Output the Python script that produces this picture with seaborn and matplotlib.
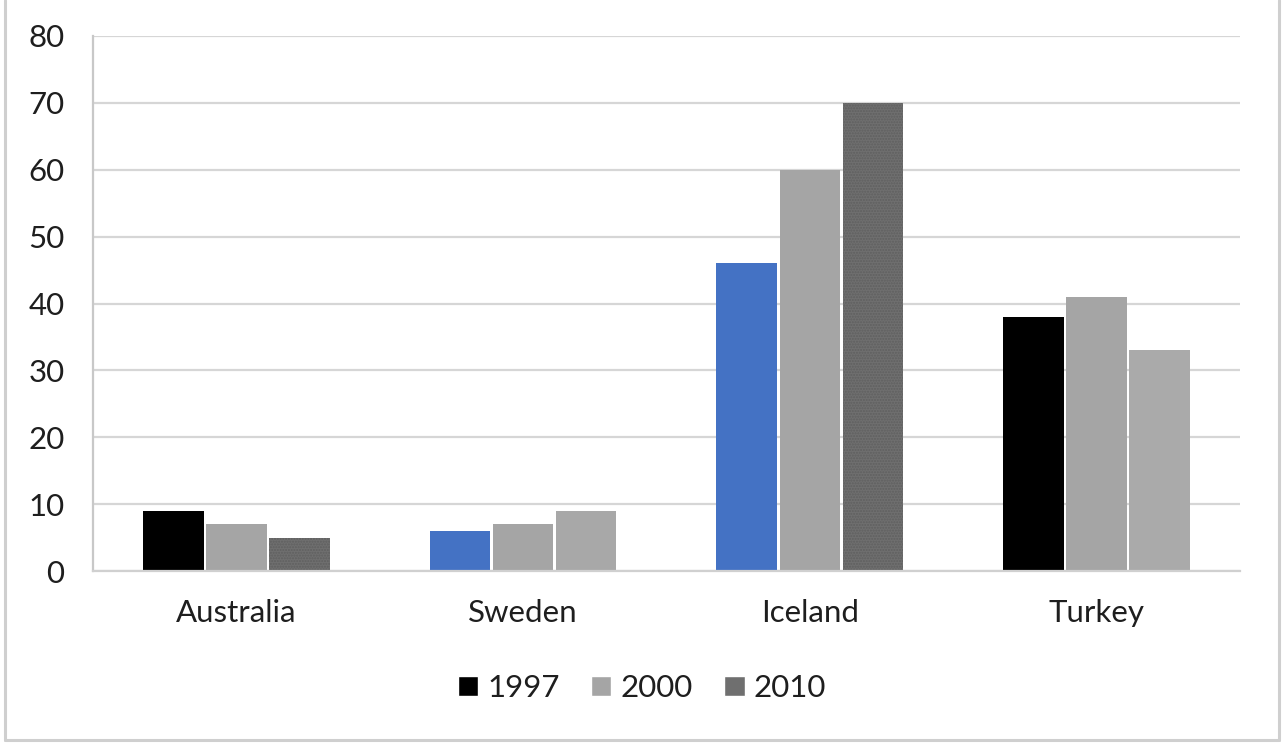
import numpy as np
import pandas as pd
import matplotlib
matplotlib.use("Agg")
import matplotlib.pyplot as plt
import seaborn as sns
from matplotlib.lines import Line2D
from matplotlib.patches import Patch

countries = ["Australia", "Sweden", "Iceland", "Turkey"]
years = ["1997", "2000", "2010"]
vals_1997 = [9, 6, 46, 38]
vals_2000 = [7, 7, 60, 41]
vals_2010 = [5, 9, 70, 33]

palette = {"1997": "#000000", "2000": "#a5a5a5", "2010": "#6f6f6f"}
# bars that the reference draws in a different colour than their series
overrides = {("1997", "Sweden"): "#4472c4", ("1997", "Iceland"): "#4472c4",
             ("2010", "Sweden"): "#a8a8a8", ("2010", "Turkey"): "#aaaaaa"}

df = pd.DataFrame({
    "country": countries * 3,
    "year": [y for y in years for _ in countries],
    "value": vals_1997 + vals_2000 + vals_2010,
})

sns.set_style("white")
plt.rcParams["font.family"] = ["Lato", "DejaVu Sans"]

fig = plt.figure(figsize=(12.84, 7.48), dpi=100)
ax = fig.add_axes([0.0724, 0.2366, 0.8933, 0.7153])

sns.barplot(data=df, x="country", y="value", hue="year", palette=palette,
            width=0.66, gap=0.04, legend=False, ax=ax, linewidth=0,
            saturation=1)

for year, cont in zip(years, ax.containers):
    for country, bar in zip(countries, cont):
        col = overrides.get((year, country), palette[year])
        bar.set_facecolor(col)
        if col == "#6f6f6f":
            bar.set_hatch("......")
            bar.set_edgecolor("#5f5f5f")
            bar.set_linewidth(0)

ax.set_ylim(0, 80)
ax.set_xlim(-0.5, 3.5)
ax.set_yticks(range(0, 81, 10))
ax.yaxis.grid(True, color="#d6d6d6", linewidth=1.6)
ax.set_axisbelow(True)
ax.set_xlabel("")
ax.set_ylabel("")

for s in ["top", "right"]:
    ax.spines[s].set_visible(False)
ax.spines["left"].set_color("#c8c8c8")
ax.spines["left"].set_linewidth(1.6)
ax.spines["bottom"].set_color("#d0d0d0")
ax.spines["bottom"].set_linewidth(1.6)

fs = 22.5
ax.tick_params(axis="y", length=8.5, width=1.6, color="#d0d0d0",
               labelsize=fs, labelcolor="#1e1e1e", pad=12)
ax.set_xticks(np.arange(-0.5, 4, 1), minor=True)
ax.tick_params(axis="x", which="major", length=0, labelsize=fs,
               labelcolor="#1e1e1e", pad=20)
ax.tick_params(axis="x", which="minor", length=7.5, width=1.6, color="#c8c8c8")

handles = [Patch(facecolor=palette[y], label=y) for y in years]
fig.legend(handles=handles, loc="center", bbox_to_anchor=(0.5, 1 - 688 / 748),
           ncol=3, frameon=False, fontsize=fs, handlelength=0.65,
           handleheight=0.65, handletextpad=0.3, columnspacing=1.0,
           labelcolor="#1e1e1e")

# outer chart frame (top edge cropped in the reference)
fc = "#cfcfcf"
fig.add_artist(Line2D([5 / 1284, 5 / 1284], [8 / 748, 1], color=fc, lw=2.2))
fig.add_artist(Line2D([1279 / 1284, 1279 / 1284], [8 / 748, 1], color=fc, lw=2.2))
fig.add_artist(Line2D([5 / 1284, 1279 / 1284], [8 / 748, 8 / 748], color=fc, lw=2.2))

fig.savefig("out.png", dpi=100, facecolor="white")
